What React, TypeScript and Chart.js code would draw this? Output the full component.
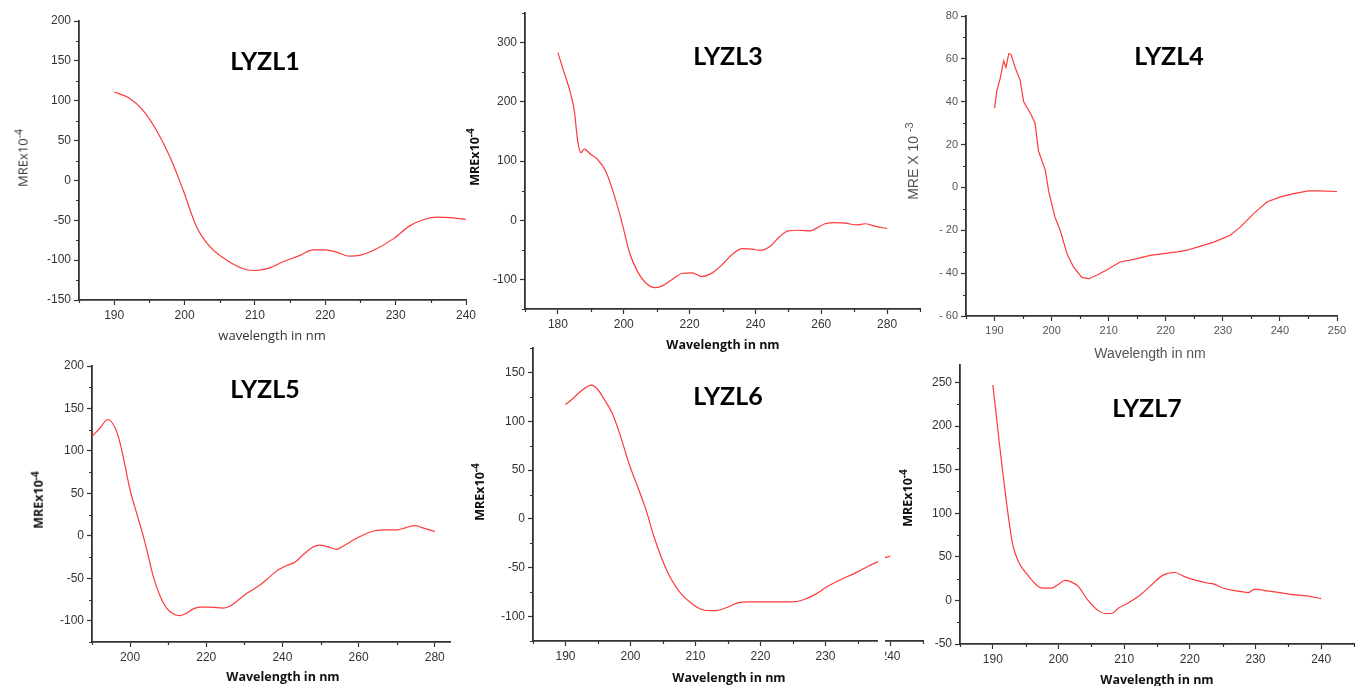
import React, { useEffect, useRef } from "react";
import { Chart, registerables } from "chart.js";
Chart.register(...registerables);

// ---------- DATA ----------
const lyzl1X = [190, 192, 194.1, 196, 197.9, 199.8, 201.7, 203.6, 206, 208.8, 210, 212, 214, 216.4, 218.3, 220, 221.6, 223.5, 224.9, 226.8, 229.7, 232, 234, 235.9, 238.2, 240];
const lyzl1Y = [111, 104, 88, 63, 30, -12, -58, -83, -100, -112, -113, -110, -102, -94, -87, -87, -90, -95, -94, -88, -73, -57, -49, -46, -47, -49];

const lyzl3X = [180, 181.4, 183.9, 185, 186, 187, 188, 190, 192, 194.5, 197, 199.6, 201.6, 204.1, 206.7, 209.7, 211.7, 214.7, 217.7, 220.8, 223.8, 226.9, 229.9, 232.9, 236, 239, 241.5, 244.5, 247.5, 250, 253.1, 256.7, 258.7, 261.2, 264.2, 267.3, 270.8, 273.3, 276.3, 280];
const lyzl3Y = [283, 258, 213, 184, 134, 114, 120, 111, 103, 83, 44, -7, -52, -86, -106, -114, -111, -100, -90, -89, -95, -89, -75, -58, -48, -49, -51, -44, -27, -18, -17, -18, -13, -6, -4, -5, -8, -6, -10, -14];

const lyzl4X = [190, 190.4, 191, 191.6, 192, 192.5, 192.9, 193.6, 194.5, 195.1, 196.3, 197.1, 197.7, 198.9, 199.5, 200.6, 201.5, 202.7, 203.8, 205.3, 206.5, 207.9, 209.7, 212, 214.4, 217.3, 219.6, 222, 223.7, 226, 228.4, 231.3, 233.1, 235.4, 237.7, 240.1, 242.4, 245, 246.8, 250];
const lyzl4Y = [37, 45, 51, 59, 56, 62.5, 62, 56, 50, 40, 34.5, 30, 17, 8, -2, -14, -20, -31, -37, -42, -42.6, -41, -38.4, -34.8, -33.6, -31.7, -30.9, -30.1, -29.3, -27.5, -25.5, -22.3, -18.4, -12.2, -6.8, -4.4, -2.9, -1.6, -1.6, -1.9];

const lyzl5X = [190, 192.1, 194.1, 196.1, 197.4, 198.7, 200, 201.7, 203.5, 204.8, 206.1, 207.9, 209.6, 211.4, 213.1, 214.9, 216.6, 218.4, 221, 224.5, 226.2, 228, 230.6, 234.1, 236.7, 238.9, 241.1, 243.3, 245.5, 248.1, 249.8, 252, 254.2, 256, 258.6, 261.2, 264.3, 267.3, 270, 272.6, 274.8, 276.5, 280];
const lyzl5Y = [117, 127, 137, 127, 109, 82, 54, 27, -1, -24, -48, -71, -85, -92, -94, -91, -86, -84, -84, -85, -83, -77, -68, -58, -48, -40, -35, -31, -22, -13, -11, -13, -16, -12, -5, 1, 6, 7, 7, 10, 12, 10, 5];

const lyzl6X = [190, 191.1, 192.4, 194, 194.9, 195.9, 197.2, 198.5, 199.8, 201.1, 202.4, 203.6, 204.9, 206.2, 207.7, 209.3, 211.1, 212.9, 214.7, 216.5, 218.3, 220.3, 222.9, 224.9, 226.5, 228.5, 230.1, 232.1, 234.7, 236.7, 238, 239, 240];
const lyzl6Y = [117, 123, 131, 137, 133, 123, 108, 84, 56, 33, 9, -18, -42, -61, -76, -86, -93, -94, -91, -86, -85, -85, -85, -85, -83, -77, -70, -63, -55, -48, -44, -40, -38];

const lyzl7X = [190, 190.5, 191, 191.5, 192, 192.5, 193, 193.5, 194, 195.1, 196.9, 197.9, 198.9, 199.9, 201, 202, 203, 204.5, 206.1, 207.1, 208.1, 209.1, 210.6, 212.4, 214.2, 215.9, 217.7, 219.3, 221, 222.6, 223.6, 225.1, 227.1, 228.9, 229.9, 231.7, 233.7, 235.3, 238.1, 240];
const lyzl7Y = [247, 214, 180, 148, 117, 89, 65, 52, 43, 31, 16, 14, 14, 18, 23, 21, 16, 0, -12, -15, -15, -9, -3, 6, 18, 29, 32, 27, 23, 20, 19, 14, 11, 9, 13, 11, 9, 7, 5, 2];

// tick labels
const ticksX190to240 = [190, 200, 210, 220, 230, 240];
const ticksX180to280 = [180, 200, 220, 240, 260, 280];
const ticksX190to250 = [190, 200, 210, 220, 230, 240, 250];
const ticksX200to280 = [200, 220, 240, 260, 280];
const ticksY1 = [-150, -100, -50, 0, 50, 100, 150, 200];
const ticksY3 = [-100, 0, 100, 200, 300];
const ticksY4 = [-60, -40, -20, 0, 20, 40, 60, 80];
const ticksY5 = [-100, -50, 0, 50, 100, 150, 200];
const ticksY6 = [-100, -50, 0, 50, 100, 150];
const ticksY7 = [-50, 0, 50, 100, 150, 200, 250];

type PanelCfg = {
  xs: number[]; ys: number[];
  xMin: number; xMax: number; yMin: number; yMax: number;
  xTicks: number[]; yTicks: number[]; xMinor: number; yMinor: number;
  area: [number, number, number, number];
  tension: number; tickColor: string; tickFont: string; tickSize: number; spacedMinus?: boolean;
};

const LINE = "#ff3a3a";
const AXIS = "#333333";
const YW = 60, XH = 30, PT = 12, PR = 16;

const minorPlugin = (xStep: number, yStep: number, xMajor: number[], yMajor: number[]) => ({
  id: "minorTicks",
  afterDraw(chart: any) {
    const ctx = chart.ctx;
    const xs = chart.scales.x, ys = chart.scales.y;
    const a = chart.chartArea;
    ctx.save();
    ctx.strokeStyle = AXIS;
    ctx.lineWidth = 1.2;
    ctx.beginPath();
    for (let v = Math.ceil(xs.min / xStep) * xStep; v <= xs.max + 1e-9; v += xStep) {
      if (xMajor.some((m) => Math.abs(m - v) < 1e-6)) continue;
      const p = Math.round(xs.getPixelForValue(v)) + 0.5;
      ctx.moveTo(p, a.bottom);
      ctx.lineTo(p, a.bottom + 3);
    }
    for (let v = Math.ceil(ys.min / yStep) * yStep; v <= ys.max + 1e-9; v += yStep) {
      if (yMajor.some((m) => Math.abs(m - v) < 1e-6)) continue;
      const p = Math.round(ys.getPixelForValue(v)) + 0.5;
      ctx.moveTo(a.left, p);
      ctx.lineTo(a.left - 3, p);
    }
    ctx.stroke();
    ctx.restore();
  },
});

function PanelChart({ cfg }: { cfg: PanelCfg }) {
  const ref = useRef<HTMLCanvasElement | null>(null);
  const [L, T, R, B] = cfg.area;
  const left = L - YW, top = T - PT;
  const w = Math.round(R - L + YW + PR), h = Math.round(B - T + PT + XH);
  useEffect(() => {
    if (!ref.current) return;
    const axisCommon = (major: number[]) => ({
      type: "linear" as const,
      afterBuildTicks: (s: any) => { s.ticks = major.map((v) => ({ value: v })); },
      grid: { display: true, drawOnChartArea: false, drawTicks: true, tickLength: 5, tickColor: AXIS, tickWidth: 1.2 },
      border: { display: true, color: AXIS, width: 1.8 },
      ticks: {
        color: cfg.tickColor,
        font: { family: cfg.tickFont, size: cfg.tickSize },
        padding: 3, autoSkip: false, maxRotation: 0,
        callback: (v: any) => (cfg.spacedMinus && v < 0 ? "- " + Math.abs(v) : String(v)),
      },
    });
    const chart = new Chart(ref.current, {
      type: "line",
      data: {
        datasets: [{
          data: cfg.xs.map((x, i) => ({ x, y: cfg.ys[i] })),
          borderColor: LINE, borderWidth: 1.2, pointRadius: 0, fill: false,
          tension: cfg.tension,
          cubicInterpolationMode: cfg.tension > 0 ? "monotone" : "default",
        }],
      },
      options: {
        animation: false, responsive: false, devicePixelRatio: 1,
        layout: { padding: { top: PT, right: PR, left: 0, bottom: 0 } },
        plugins: { legend: { display: false }, tooltip: { enabled: false }, title: { display: false } },
        scales: {
          x: { ...axisCommon(cfg.xTicks), min: cfg.xMin, max: cfg.xMax, afterFit: (s: any) => { s.height = XH; } },
          y: { ...axisCommon(cfg.yTicks), min: cfg.yMin, max: cfg.yMax, afterFit: (s: any) => { s.width = YW; } },
        },
      } as any,
      plugins: [minorPlugin(cfg.xMinor, cfg.yMinor, cfg.xTicks, cfg.yTicks)],
    });
    return () => chart.destroy();
  }, []);
  return <canvas ref={ref} width={w} height={h} style={{ position: "absolute", left, top, width: w, height: h }} />;
}

const panels: PanelCfg[] = [
  { xs: lyzl1X, ys: lyzl1Y, xMin: 185, xMax: 240, yMin: -150, yMax: 200, xTicks: ticksX190to240, yTicks: ticksY1, xMinor: 5, yMinor: 25, area: [79, 20.7, 465.7, 300], tension: 0.4, tickColor: "#333", tickFont: "Liberation Sans", tickSize: 12 },
  { xs: lyzl3X, ys: lyzl3Y, xMin: 170, xMax: 290, yMin: -150, yMax: 350, xTicks: ticksX180to280, yTicks: ticksY3, xMinor: 10, yMinor: 50, area: [525.3, 12.7, 920, 308.3], tension: 0.3, tickColor: "#333", tickFont: "Liberation Sans", tickSize: 12 },
  { xs: lyzl4X, ys: lyzl4Y, xMin: 185, xMax: 250, yMin: -60, yMax: 80, xTicks: ticksX190to250, yTicks: ticksY4, xMinor: 5, yMinor: 10, area: [965.7, 16, 1336.7, 315.7], tension: 0, tickColor: "#555", tickFont: "Liberation Sans", tickSize: 11, spacedMinus: true },
  { xs: lyzl5X, ys: lyzl5Y, xMin: 190, xMax: 284, yMin: -125, yMax: 200, xTicks: ticksX200to280, yTicks: ticksY5, xMinor: 10, yMinor: 25, area: [92, 366, 450, 642.3], tension: 0.4, tickColor: "#333", tickFont: "Liberation Sans", tickSize: 12 },
  { xs: lyzl6X, ys: lyzl6Y, xMin: 185, xMax: 245, yMin: -125, yMax: 175, xTicks: ticksX190to240, yTicks: ticksY6, xMinor: 5, yMinor: 25, area: [533.3, 348.3, 923.3, 641.7], tension: 0.4, tickColor: "#333", tickFont: "Liberation Sans", tickSize: 12 },
  { xs: lyzl7X, ys: lyzl7Y, xMin: 185, xMax: 245, yMin: -50, yMax: 270, xTicks: ticksX190to240, yTicks: ticksY7, xMinor: 5, yMinor: 25, area: [959.7, 365, 1353.3, 644], tension: 0.3, tickColor: "#333", tickFont: "Liberation Sans", tickSize: 12 },
];

const Txt = ({ x, y, rot, style, children }: any) => (
  <div style={{ position: "absolute", left: x, top: y, transform: `translate(-50%,-50%)${rot ? " rotate(-90deg)" : ""}`, whiteSpace: "nowrap", lineHeight: 1, ...style }}>{children}</div>
);

const titleStyle = { fontFamily: "Lato", fontWeight: 700, fontSize: 25, color: "#000" };
const boldLbl = { fontFamily: "Open Sans", fontWeight: 700, fontSize: 12.5, color: "#111" };
const normLbl = { fontFamily: "Open Sans", fontWeight: 400, fontSize: 13, color: "#333" };
const grayLbl = { fontFamily: "Liberation Sans", fontWeight: 400, fontSize: 14, color: "#555" };
const Sup = ({ children }: any) => <sup style={{ fontSize: "0.8em", verticalAlign: "0.45em", lineHeight: 0 }}>{children}</sup>;

export default function App() {
  return (
    <div style={{ position: "absolute", left: 0, top: 0, width: 1356, height: 686, overflow: "hidden", background: "#fff" }}>
      {panels.map((p, i) => <PanelChart key={i} cfg={p} />)}
      <div style={{ position: "absolute", left: 878, top: 520, width: 7, height: 166, background: "#fff" }} />

      <Txt x={265} y={60} style={titleStyle}>LYZL1</Txt>
      <Txt x={728} y={55} style={titleStyle}>LYZL3</Txt>
      <Txt x={1169} y={55} style={titleStyle}>LYZL4</Txt>
      <Txt x={265} y={388} style={titleStyle}>LYZL5</Txt>
      <Txt x={728} y={395} style={titleStyle}>LYZL6</Txt>
      <Txt x={1147} y={407} style={titleStyle}>LYZL7</Txt>

      <Txt x={23} y={158} rot style={normLbl}>MREx10<Sup>-4</Sup></Txt>
      <Txt x={272} y={335} style={normLbl}>wavelength in nm</Txt>
      <Txt x={475} y={157} rot style={boldLbl}>MREx10<Sup>-4</Sup></Txt>
      <Txt x={723} y={345} style={boldLbl}>Wavelength in nm</Txt>
      <Txt x={913} y={161} rot style={grayLbl}>MRE X 10 <Sup>-3</Sup></Txt>
      <Txt x={1150} y={353} style={grayLbl}>Wavelength in nm</Txt>
      <Txt x={39} y={500} rot style={boldLbl}>MREx10<Sup>-4</Sup></Txt>
      <Txt x={283} y={677} style={boldLbl}>Wavelength in nm</Txt>
      <Txt x={480} y={492} rot style={boldLbl}>MREx10<Sup>-4</Sup></Txt>
      <Txt x={729} y={678} style={boldLbl}>Wavelength in nm</Txt>
      <Txt x={908} y={498} rot style={boldLbl}>MREx10<Sup>-4</Sup></Txt>
      <Txt x={1157} y={680} style={boldLbl}>Wavelength in nm</Txt>
    </div>
  );
}
